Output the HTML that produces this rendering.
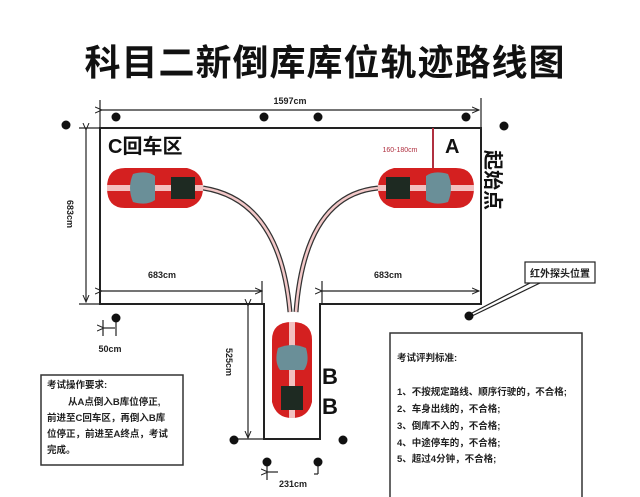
<!DOCTYPE html>
<html><head><meta charset="utf-8"><style>
html,body{margin:0;padding:0;background:#fff;}
svg{display:block;font-family:"Liberation Sans","Noto Sans CJK SC",sans-serif;}
</style></head><body>
<svg width="640" height="497" viewBox="0 0 640 497" xmlns="http://www.w3.org/2000/svg">
<defs>
<marker id="ar" markerWidth="8" markerHeight="8" refX="7" refY="4" orient="auto" markerUnits="userSpaceOnUse"><path d="M0,1 L7,4 L0,7" fill="none" stroke="#222" stroke-width="1"/></marker>
<g id="car">
<path d="M18,0 H80 Q96,4 96,20 Q96,36 80,40 H18 Q0,40 0,20 Q0,0 18,0Z" fill="#d42020"/>
<rect x="0" y="17" width="96" height="6" fill="#f3c0c0"/>
<path d="M26,6 Q40,2 48,8 L48,32 Q40,38 26,34 Q20,20 26,6Z" fill="#6a8f98"/>
<rect x="64" y="9" width="24" height="22" fill="#1e2a22"/>
</g>
</defs>
<text x="325" y="75" text-anchor="middle" font-size="36" font-weight="bold" fill="#111" letter-spacing="1">科目二新倒库库位轨迹路线图</text>
<g stroke="#222" stroke-width="2" fill="none">
<path d="M100,128 H481 V304 H320 V439 H264 V304 H100 Z"/>
</g>
<g stroke="#222" stroke-width="1.2" fill="none">
<line x1="100" y1="100" x2="100" y2="128"/><line x1="481" y1="98" x2="481" y2="128"/>
<line x1="102" y1="110" x2="479" y2="110" marker-start="url(#ar)" marker-end="url(#ar)"/>
<line x1="79" y1="128" x2="100" y2="128"/><line x1="79" y1="304" x2="100" y2="304"/>
<line x1="86" y1="130" x2="86" y2="302" marker-start="url(#ar)" marker-end="url(#ar)"/>
<line x1="102" y1="291" x2="262" y2="291" marker-start="url(#ar)" marker-end="url(#ar)"/>
<line x1="322" y1="291" x2="479" y2="291" marker-start="url(#ar)" marker-end="url(#ar)"/>
<line x1="262" y1="281" x2="262" y2="304"/><line x1="322" y1="281" x2="322" y2="304"/>
<line x1="248" y1="306" x2="248" y2="438" marker-start="url(#ar)" marker-end="url(#ar)"/>
<line x1="234" y1="439" x2="264" y2="439"/>
<line x1="103" y1="320" x2="103" y2="336"/><line x1="116" y1="320" x2="116" y2="336"/>
<line x1="104" y1="328" x2="115" y2="328" marker-start="url(#ar)"/>
<line x1="267" y1="462" x2="267" y2="480"/><line x1="268" y1="472" x2="278" y2="472" marker-start="url(#ar)"/>
<line x1="318" y1="462" x2="318" y2="474"/><line x1="318" y1="474" x2="314" y2="474"/>
<line x1="470" y1="314" x2="530" y2="283"/><line x1="472" y1="316" x2="540" y2="283"/>
</g>
<g fill="#111">
<circle cx="116" cy="117" r="4.5"/><circle cx="264" cy="117" r="4.5"/><circle cx="318" cy="117" r="4.5"/><circle cx="466" cy="117" r="4.5"/>
<circle cx="66" cy="125" r="4.5"/><circle cx="504" cy="126" r="4.5"/>
<circle cx="116" cy="318" r="4.5"/><circle cx="469" cy="316" r="4.5"/>
<circle cx="234" cy="440" r="4.5"/><circle cx="343" cy="440" r="4.5"/>
<circle cx="267" cy="462" r="4.5"/><circle cx="318" cy="462" r="4.5"/>
</g>
<g fill="none">
<path d="M203,188 Q280,200 290,312" stroke="#333" stroke-width="5"/>
<path d="M203,188 Q280,200 290,312" stroke="#f3c8c8" stroke-width="2.5"/>
<path d="M378,188 Q305,195 296,312" stroke="#333" stroke-width="5"/>
<path d="M378,188 Q305,195 296,312" stroke="#f3c8c8" stroke-width="2.5"/>
</g>
<line x1="433" y1="128" x2="433" y2="168" stroke="#b03040" stroke-width="2"/>
<text x="400" y="152" font-size="7" fill="#b03040" text-anchor="middle">160-180cm</text>
<use href="#car" transform="translate(107,168)"/>
<use href="#car" transform="translate(474,168) scale(-1,1)"/>
<use href="#car" transform="translate(312,322) rotate(90)"/>
<g font-weight="bold" fill="#111">
<text x="108" y="153" font-size="20">C回车区</text>
<text x="445" y="153" font-size="20">A</text>
<text x="322" y="384" font-size="22">B</text>
<text x="322" y="414" font-size="22">B</text>
<text transform="translate(486,150) rotate(90)" font-size="20">起始点</text>
</g>
<g font-size="9" fill="#222" font-weight="bold">
<text x="290" y="104" text-anchor="middle">1597cm</text>
<text x="162" y="278" text-anchor="middle">683cm</text>
<text x="388" y="278" text-anchor="middle">683cm</text>
<text x="110" y="352" text-anchor="middle">50cm</text>
<text x="293" y="487" text-anchor="middle">231cm</text>
<text transform="translate(67,200) rotate(90)">683cm</text>
<text transform="translate(226,348) rotate(90)">525cm</text>
</g>
<rect x="525" y="262" width="70" height="21" fill="#fff" stroke="#222" stroke-width="1.2"/>
<text x="560" y="277" font-size="10" text-anchor="middle" font-weight="bold" fill="#222">红外探头位置</text>
<rect x="41" y="375" width="142" height="90" fill="#fff" stroke="#333" stroke-width="1.5"/>
<g font-size="9.5" font-weight="bold" fill="#222">
<text x="47" y="388">考试操作要求:</text>
<text x="68" y="405">从A点倒入B库位停正,</text>
<text x="47" y="421">前进至C回车区，再倒入B库</text>
<text x="47" y="437">位停正，前进至A终点，考试</text>
<text x="47" y="453">完成。</text>
</g>
<rect x="390" y="333" width="192" height="170" fill="#fff" stroke="#333" stroke-width="1.5"/>
<g font-size="9.5" font-weight="bold" fill="#222">
<text x="397" y="361">考试评判标准:</text>
<text x="397" y="395">1、不按规定路线、顺序行驶的，不合格;</text>
<text x="397" y="412">2、车身出线的，不合格;</text>
<text x="397" y="429">3、倒库不入的，不合格;</text>
<text x="397" y="446">4、中途停车的，不合格;</text>
<text x="397" y="462">5、超过4分钟，不合格;</text>
</g>
</svg>
</body></html>
